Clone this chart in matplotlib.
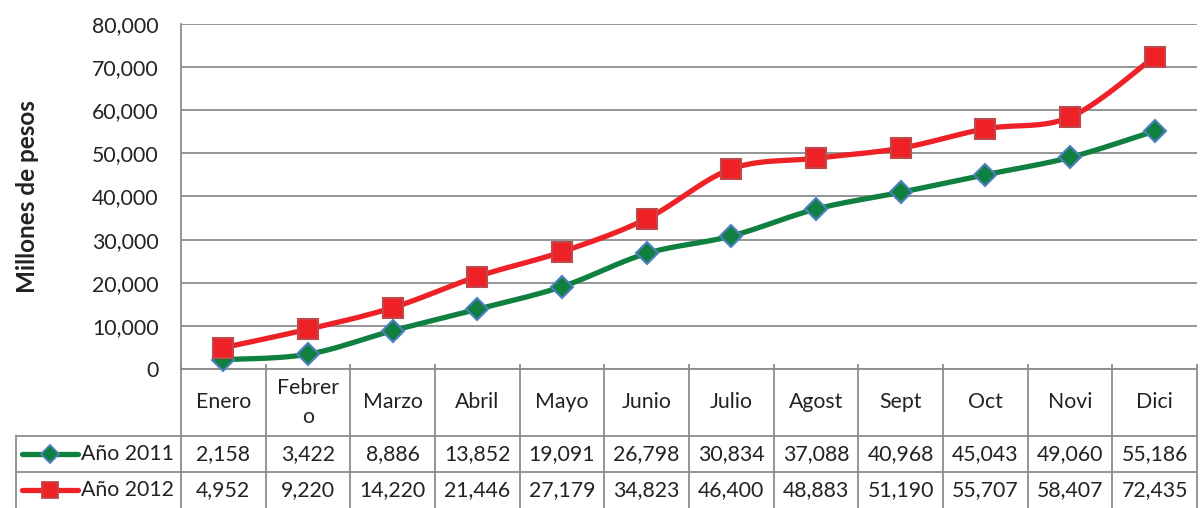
import numpy as np
import matplotlib
matplotlib.use("Agg")
import matplotlib.pyplot as plt
from matplotlib.transforms import blended_transform_factory
from matplotlib.lines import Line2D

plt.rcParams['font.family'] = ['Lato', 'DejaVu Sans']

months = ["Enero", "Febrer\no", "Marzo", "Abril", "Mayo", "Junio", "Julio",
          "Agost", "Sept", "Oct", "Novi", "Dici"]
series_names = ["Año 2011", "Año 2012"]
y2011 = [2158, 3422, 8886, 13852, 19091, 26798, 30834, 37088, 40968, 45043, 49060, 55186]
y2012 = [4952, 9220, 14220, 21446, 27179, 34823, 46400, 48883, 51190, 55707, 58407, 72435]
yticks = [0, 10000, 20000, 30000, 40000, 50000, 60000, 70000, 80000]

GREEN = '#0F803F'
RED = '#EE2126'
GRID = '#8C8C8C'
TXT = '#222222'
FS = 15.3


def smooth(x, y, n=20):
    # Catmull-Rom style smoothing for drawing the connecting line only
    x = np.asarray(x, float); y = np.asarray(y, float)
    px = np.concatenate([[x[0]], x, [x[-1]]])
    py = np.concatenate([[y[0]], y, [y[-1]]])
    xs, ys = [], []
    t = np.linspace(0, 1, n)
    for i in range(1, len(px) - 2):
        p0, p1, p2, p3 = (np.array([px[j], py[j]]) for j in range(i - 1, i + 3))
        c1 = p1 + (p2 - p0) / 6
        c2 = p2 - (p3 - p1) / 6
        b = ((1 - t) ** 3)[:, None] * p1 + (3 * (1 - t) ** 2 * t)[:, None] * c1 \
            + (3 * (1 - t) * t ** 2)[:, None] * c2 + (t ** 3)[:, None] * p2
        xs.extend(b[:, 0]); ys.extend(b[:, 1])
    return np.array(xs), np.array(ys)


fig = plt.figure(figsize=(12, 5.08), dpi=100)
ax = fig.add_axes([181 / 1200, (508 - 369) / 508, (1197 - 181) / 1200, 345 / 508])

n = len(months)
x = np.arange(n)
ax.set_xlim(-0.5, n - 0.5)
ax.set_ylim(0, 80000)
ax.set_yticks(yticks)
ax.set_yticklabels([f"{v:,}" for v in yticks], fontsize=FS, color=TXT)
ax.yaxis.grid(True, color=GRID, lw=1.3)
ax.set_axisbelow(True)
ax.tick_params(axis='y', length=0, pad=16)
ax.set_xticks([])
for s in ['top', 'right']:
    ax.spines[s].set_visible(False)
ax.spines['left'].set_color(GRID)
ax.spines['left'].set_linewidth(1.3)
ax.spines['bottom'].set_color(GRID)
ax.spines['bottom'].set_linewidth(1.3)

ax.set_ylabel("Millones de pesos", fontsize=17.5, fontweight='bold', color=TXT)
ax.yaxis.set_label_coords(-142 / 1016, 0.5)

sx, sy = smooth(x, y2011)
ax.plot(sx, sy, color=GREEN, lw=3.8, solid_capstyle='round', zorder=3, clip_on=False)
ax.plot(x, y2011, ls='none', marker='D', ms=11, mfc=GREEN, mec='#4F7FC0', mew=1.5,
        zorder=4, clip_on=False)
sx, sy = smooth(x, y2012)
ax.plot(sx, sy, color=RED, lw=3.8, solid_capstyle='round', zorder=5, clip_on=False)
ax.plot(x, y2012, ls='none', marker='s', ms=14, mfc=RED, mec='#C0474A', mew=1.5,
        zorder=6, clip_on=False)

# data table below the axis
tr = blended_transform_factory(ax.transData, ax.transAxes)
trf = blended_transform_factory(fig.transFigure, ax.transAxes)
H = 345.0
r1 = (369 - 436) / H
r2 = (369 - 472) / H
r3 = (369 - 508) / H
kw = dict(color=GRID, lw=1.3, clip_on=False)
for b in np.arange(n + 1) - 0.5:
    ax.add_line(Line2D([b, b], [0.012, r3], transform=tr, **kw))
for r in (r1, r2):
    ax.add_line(Line2D([16 / 1200, 1197 / 1200], [r, r], transform=trf, **kw))
ax.add_line(Line2D([16 / 1200, 16 / 1200], [r1, r3], transform=trf, **kw))

for i, m in enumerate(months):
    ax.text(i, r1 / 2, m, transform=tr, ha='center', va='center', fontsize=FS,
            color=TXT, linespacing=1.55)
for i in range(n):
    ax.text(i, (r1 + r2) / 2, f"{y2011[i]:,}", transform=tr, ha='center', va='center',
            fontsize=FS, color=TXT)
    ax.text(i, (r2 + r3) / 2, f"{y2012[i]:,}", transform=tr, ha='center', va='center',
            fontsize=FS, color=TXT)

# legend keys inside the table
for row, (col, mk, ms, mec, name) in enumerate([
        (GREEN, 'D', 9, '#4F7FC0', series_names[0]),
        (RED, 's', 12, '#C0474A', series_names[1])]):
    yy = (r1 + r2) / 2 if row == 0 else (r2 + r3) / 2
    ax.add_line(Line2D([22 / 1200, 78 / 1200], [yy, yy], transform=trf, color=col,
                       lw=3.8, solid_capstyle='round', clip_on=False))
    ax.add_line(Line2D([50 / 1200], [yy], transform=trf, ls='none', marker=mk, ms=ms,
                       mfc=col, mec=mec, mew=1.3, clip_on=False))
    ax.text(81 / 1200, yy, name, transform=trf, ha='left', va='center', fontsize=FS,
            color=TXT)

fig.savefig("out.png", dpi=100)
